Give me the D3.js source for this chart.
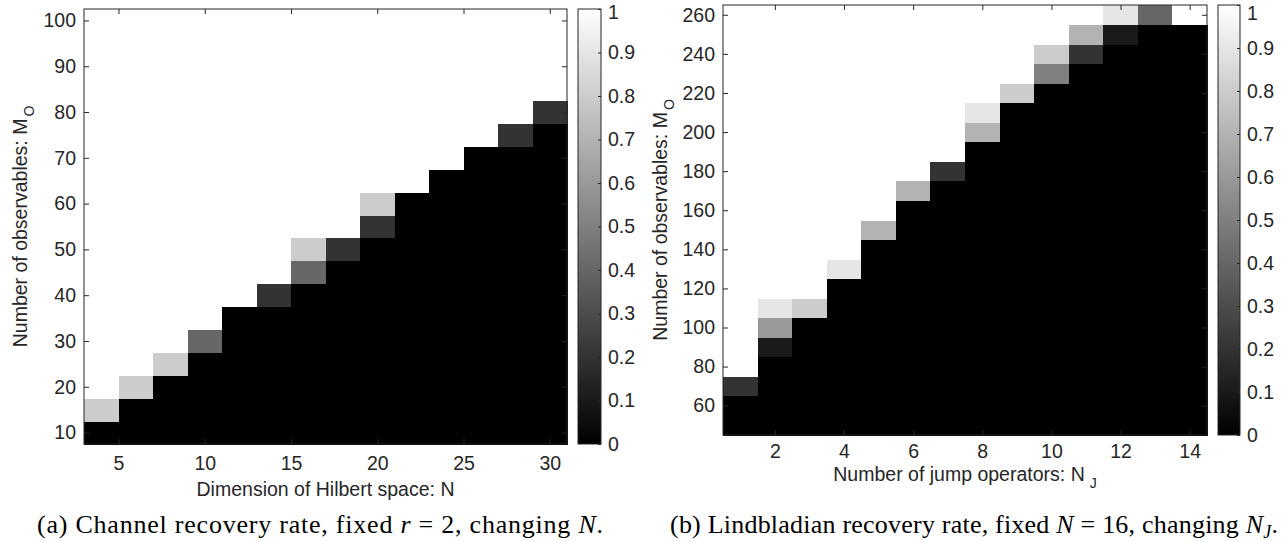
<!DOCTYPE html>
<html>
<head>
<meta charset="utf-8">
<script src="https://cdn.jsdelivr.net/npm/d3@7"></script>
<style>
  body { margin: 0; background: #fff; }
  svg text { font-family: "Liberation Sans", Arial, sans-serif; fill: #262626; }
  .caption { font-family: "Liberation Serif", "DejaVu Serif", serif; fill: #000; }
</style>
</head>
<body>
<svg id="chart" width="1282" height="541"></svg>
<script>
// (a) channel recovery rate: columns N, rows M_O (bottom to top)
const channelN = [4, 6, 8, 10, 12, 14, 16, 18, 20, 22, 24, 26, 28, 30];
const channelM = [10, 15, 20, 25, 30, 35, 40, 45, 50, 55, 60, 65, 70, 75, 80, 85, 90, 95, 100];
const channelRate = [
  [0, 0, 0, 0, 0, 0, 0, 0, 0, 0, 0, 0, 0, 0],
  [0.8, 0, 0, 0, 0, 0, 0, 0, 0, 0, 0, 0, 0, 0],
  [1, 0.8, 0, 0, 0, 0, 0, 0, 0, 0, 0, 0, 0, 0],
  [1, 1, 0.8, 0, 0, 0, 0, 0, 0, 0, 0, 0, 0, 0],
  [1, 1, 1, 0.4, 0, 0, 0, 0, 0, 0, 0, 0, 0, 0],
  [1, 1, 1, 1, 0, 0, 0, 0, 0, 0, 0, 0, 0, 0],
  [1, 1, 1, 1, 1, 0.2, 0, 0, 0, 0, 0, 0, 0, 0],
  [1, 1, 1, 1, 1, 1, 0.4, 0, 0, 0, 0, 0, 0, 0],
  [1, 1, 1, 1, 1, 1, 0.8, 0.2, 0, 0, 0, 0, 0, 0],
  [1, 1, 1, 1, 1, 1, 1, 1, 0.2, 0, 0, 0, 0, 0],
  [1, 1, 1, 1, 1, 1, 1, 1, 0.8, 0, 0, 0, 0, 0],
  [1, 1, 1, 1, 1, 1, 1, 1, 1, 1, 0, 0, 0, 0],
  [1, 1, 1, 1, 1, 1, 1, 1, 1, 1, 1, 0, 0, 0],
  [1, 1, 1, 1, 1, 1, 1, 1, 1, 1, 1, 1, 0.2, 0],
  [1, 1, 1, 1, 1, 1, 1, 1, 1, 1, 1, 1, 1, 0.2],
  [1, 1, 1, 1, 1, 1, 1, 1, 1, 1, 1, 1, 1, 1],
  [1, 1, 1, 1, 1, 1, 1, 1, 1, 1, 1, 1, 1, 1],
  [1, 1, 1, 1, 1, 1, 1, 1, 1, 1, 1, 1, 1, 1],
  [1, 1, 1, 1, 1, 1, 1, 1, 1, 1, 1, 1, 1, 1],
];
const channelXTicks = [5, 10, 15, 20, 25, 30];
const channelYTicks = [10, 20, 30, 40, 50, 60, 70, 80, 90, 100];

// (b) Lindbladian recovery rate: columns N_J, rows M_O (bottom to top)
const lindNJ = [1, 2, 3, 4, 5, 6, 7, 8, 9, 10, 11, 12, 13, 14];
const lindM = [50, 60, 70, 80, 90, 100, 110, 120, 130, 140, 150, 160, 170, 180, 190, 200, 210, 220, 230, 240, 250, 260];
const lindRate = [
  [0, 0, 0, 0, 0, 0, 0, 0, 0, 0, 0, 0, 0, 0],
  [0, 0, 0, 0, 0, 0, 0, 0, 0, 0, 0, 0, 0, 0],
  [0.2, 0, 0, 0, 0, 0, 0, 0, 0, 0, 0, 0, 0, 0],
  [1, 0, 0, 0, 0, 0, 0, 0, 0, 0, 0, 0, 0, 0],
  [1, 0.1, 0, 0, 0, 0, 0, 0, 0, 0, 0, 0, 0, 0],
  [1, 0.6, 0, 0, 0, 0, 0, 0, 0, 0, 0, 0, 0, 0],
  [1, 0.9, 0.8, 0, 0, 0, 0, 0, 0, 0, 0, 0, 0, 0],
  [1, 1, 1, 0, 0, 0, 0, 0, 0, 0, 0, 0, 0, 0],
  [1, 1, 1, 0.9, 0, 0, 0, 0, 0, 0, 0, 0, 0, 0],
  [1, 1, 1, 1, 0, 0, 0, 0, 0, 0, 0, 0, 0, 0],
  [1, 1, 1, 1, 0.7, 0, 0, 0, 0, 0, 0, 0, 0, 0],
  [1, 1, 1, 1, 1, 0, 0, 0, 0, 0, 0, 0, 0, 0],
  [1, 1, 1, 1, 1, 0.7, 0, 0, 0, 0, 0, 0, 0, 0],
  [1, 1, 1, 1, 1, 1, 0.2, 0, 0, 0, 0, 0, 0, 0],
  [1, 1, 1, 1, 1, 1, 1, 0, 0, 0, 0, 0, 0, 0],
  [1, 1, 1, 1, 1, 1, 1, 0.7, 0, 0, 0, 0, 0, 0],
  [1, 1, 1, 1, 1, 1, 1, 0.9, 0, 0, 0, 0, 0, 0],
  [1, 1, 1, 1, 1, 1, 1, 1, 0.8, 0, 0, 0, 0, 0],
  [1, 1, 1, 1, 1, 1, 1, 1, 1, 0.5, 0, 0, 0, 0],
  [1, 1, 1, 1, 1, 1, 1, 1, 1, 0.8, 0.2, 0, 0, 0],
  [1, 1, 1, 1, 1, 1, 1, 1, 1, 1, 0.7, 0.1, 0, 0],
  [1, 1, 1, 1, 1, 1, 1, 1, 1, 1, 1, 0.9, 0.4, 1],
];
const lindXTicks = [2, 4, 6, 8, 10, 12, 14];
const lindYTicks = [60, 80, 100, 120, 140, 160, 180, 200, 220, 240, 260];

const colorTicks = [0, 0.1, 0.2, 0.3, 0.4, 0.5, 0.6, 0.7, 0.8, 0.9, 1];

const svg = d3.select("#chart");
const axisColor = "#262626";
const fontSize = 19.5;
const gray = d3.scaleLinear().domain([0, 1]).range(["#000000", "#ffffff"]);

// one shared gradient for both colorbars
const grad = svg.append("defs").append("linearGradient")
  .attr("id", "graybar").attr("x1", 0).attr("y1", 1).attr("x2", 0).attr("y2", 0);
grad.append("stop").attr("offset", 0).attr("stop-color", "#000");
grad.append("stop").attr("offset", 1).attr("stop-color", "#fff");

function styleText(sel) {
  sel.style("font-size", fontSize + "px")
    .style("font-family", '"Liberation Sans", Arial, sans-serif')
    .attr("fill", axisColor);
}

function drawPanel(p) {
  const x = d3.scaleLinear().domain(p.xDomain).range([p.left, p.right]);
  const y = d3.scaleLinear().domain(p.yDomain).range([p.bottom, p.top]);
  const dx = p.cols[1] - p.cols[0];
  const dy = p.rows[1] - p.rows[0];

  const cells = [];
  p.rate.forEach((row, i) => row.forEach((v, j) => cells.push({ c: p.cols[j], r: p.rows[i], v })));

  const g = svg.append("g");

  // heatmap cells
  g.selectAll("rect.cell")
    .data(cells)
    .enter()
    .append("rect")
    .attr("class", "cell")
    .attr("x", (d) => x(d.c - dx / 2))
    .attr("y", (d) => y(d.r + dy / 2))
    .attr("width", x(dx) - x(0) + 0.5)
    .attr("height", y(0) - y(dy) + 0.5)
    .attr("fill", (d) => gray(d.v))
    .attr("shape-rendering", "crispEdges");

  // box
  g.append("rect")
    .attr("x", p.left).attr("y", p.top)
    .attr("width", p.right - p.left).attr("height", p.bottom - p.top)
    .attr("fill", "none").attr("stroke", axisColor).attr("stroke-width", 1);

  // bottom / left axes with inward ticks, mirrored on top / right
  const tick = 5;
  const xAxis = d3.axisBottom(x).tickValues(p.xTicks).tickSize(-tick).tickPadding(p.xPad).tickSizeOuter(0);
  const yAxis = d3.axisLeft(y).tickValues(p.yTicks).tickSize(-tick).tickPadding(p.yPad).tickSizeOuter(0);
  const xg = g.append("g").attr("transform", `translate(0,${p.bottom})`).call(xAxis);
  const yg = g.append("g").attr("transform", `translate(${p.left},0)`).call(yAxis);
  g.append("g").attr("transform", `translate(0,${p.top})`)
    .call(d3.axisTop(x).tickValues(p.xTicks).tickSize(-tick).tickFormat("").tickSizeOuter(0));
  g.append("g").attr("transform", `translate(${p.right},0)`)
    .call(d3.axisRight(y).tickValues(p.yTicks).tickSize(-tick).tickFormat("").tickSizeOuter(0));
  g.selectAll(".domain").remove();
  g.selectAll(".tick line").attr("stroke", axisColor);
  styleText(xg.selectAll("text"));
  styleText(yg.selectAll("text"));

  // axis labels
  const xl = g.append("text")
    .attr("x", (p.left + p.right) / 2)
    .attr("y", p.xLabelY)
    .attr("text-anchor", "middle")
    .style("font-size", fontSize + "px")
    .text(p.xLabel);
  if (p.xSub) {
    xl.append("tspan").attr("dx", 5).attr("dy", 7).style("font-size", "14px").text(p.xSub);
  }
  const yl = g.append("text")
    .attr("transform", `translate(${p.yLabelX},${(p.top + p.bottom) / 2}) rotate(-90)`)
    .attr("text-anchor", "middle")
    .style("font-size", fontSize + "px")
    .text(p.yLabel);
  yl.append("tspan").attr("dx", 2).attr("dy", 7).style("font-size", "14px").text("O");

  // colorbar
  const cb = d3.scaleLinear().domain([0, 1]).range([p.bottom, p.top]);
  g.append("rect")
    .attr("x", p.cbLeft).attr("y", p.top)
    .attr("width", p.cbWidth).attr("height", p.bottom - p.top)
    .attr("fill", "url(#graybar)")
    .attr("stroke", axisColor).attr("stroke-width", 1);
  const cbg = g.append("g")
    .attr("transform", `translate(${p.cbLeft + p.cbWidth},0)`)
    .call(d3.axisRight(cb).tickValues(colorTicks).tickSize(-3).tickPadding(7).tickSizeOuter(0)
      .tickFormat((d) => d3.format("~g")(d)));
  cbg.select(".domain").remove();
  cbg.selectAll(".tick line").attr("stroke", axisColor);
  styleText(cbg.selectAll("text"));
  // keep the top "1" inside the picture
  cbg.selectAll(".tick text").filter((d) => d === 1).attr("dy", p.top < 8 ? "0.72em" : "0.5em");

  // caption
  const cap = svg.append("text")
    .attr("class", "caption")
    .attr("x", p.capX)
    .attr("y", 533)
    .attr("text-anchor", "middle")
    .attr("textLength", p.capWidth)
    .attr("lengthAdjust", "spacing")
    .style("font-size", "26px");
  p.caption.forEach((part) => {
    const t = cap.append("tspan").text(part.t);
    if (part.i) t.style("font-style", "italic");
    if (part.sub) t.attr("dy", 5).style("font-size", "18px");
    if (part.back) t.attr("dy", -5);
  });
}

drawPanel({
  cols: channelN, rows: channelM, rate: channelRate,
  xDomain: [3, 31], yDomain: [7.5, 102.5],
  left: 84, right: 567, top: 9, bottom: 444,
  xTicks: channelXTicks, yTicks: channelYTicks, xPad: 12, yPad: 8,
  xLabel: "Dimension of Hilbert space: N", xLabelY: 496,
  yLabel: "Number of observables: M", yLabelX: 27,
  cbLeft: 578, cbWidth: 23,
  capX: 320, capWidth: 566,
  caption: [
    { t: "(a) Channel recovery rate, fixed " }, { t: "r", i: true },
    { t: " = 2, changing " }, { t: "N", i: true }, { t: "." },
  ],
});

drawPanel({
  cols: lindNJ, rows: lindM, rate: lindRate,
  xDomain: [0.5, 14.5], yDomain: [45, 265],
  left: 723, right: 1207, top: 5, bottom: 435,
  xTicks: lindXTicks, yTicks: lindYTicks, xPad: 9, yPad: 8,
  xLabel: "Number of jump operators: N", xSub: "J", xLabelY: 481,
  yLabel: "Number of observables: M", yLabelX: 667,
  cbLeft: 1218, cbWidth: 22,
  capX: 974, capWidth: 608,
  caption: [
    { t: "(b) Lindbladian recovery rate, fixed " }, { t: "N", i: true },
    { t: " = 16, changing " }, { t: "N", i: true }, { t: "J", i: true, sub: true },
    { t: ".", back: true },
  ],
});
</script>
</body>
</html>
